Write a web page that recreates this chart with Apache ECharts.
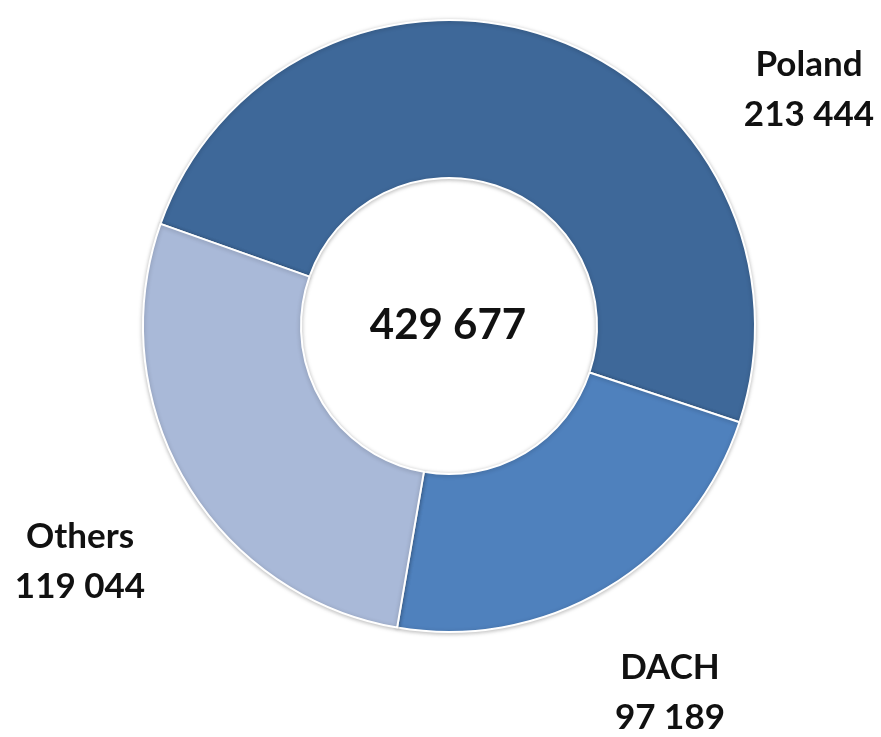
<!DOCTYPE html>
<html>
<head>
<meta charset="utf-8">
<script src="https://cdn.jsdelivr.net/npm/echarts@6/dist/echarts.min.js"></script>
<style>html,body{margin:0;padding:0;background:#fff;}#c{width:881px;height:737px;}</style>
</head>
<body>
<div id="c"></div>
<script>
const categories = ['Poland', 'DACH', 'Others'];
const values = [213444, 97189, 119044];
const colors = ['#3E6899', '#4F81BD', '#A9B9D8'];
const labelPositions = [[809, 90], [670, 693], [80, 562]];

const fmt = v => String(v).replace(/\B(?=(\d{3})+(?!\d))/g, ' ');
const total = values.reduce((a, b) => a + b, 0);

const chart = echarts.init(document.getElementById('c'));
chart.setOption({
  animation: false,
  graphic: [{
    type: 'text',
    x: 448, y: 325,
    style: {
      text: fmt(total),
      fontFamily: 'Lato', fontWeight: 'bold', fontSize: 42,
      fill: '#111', textAlign: 'center', textVerticalAlign: 'middle'
    }
  }],
  series: [{
    type: 'pie',
    center: [449, 326],
    radius: [148, 306],
    startAngle: 160.5,
    clockwise: true,
    avoidLabelOverlap: false,
    itemStyle: {
      borderColor: '#fff', borderWidth: 2,
      shadowColor: 'rgba(0,0,0,0.25)', shadowBlur: 4, shadowOffsetY: 1
    },
    label: {
      show: true,
      position: 'outside',
      formatter: p => p.name + '\n' + fmt(p.value),
      fontFamily: 'Lato', fontWeight: 'bold', fontSize: 35,
      lineHeight: 50, color: '#111', align: 'center'
    },
    labelLine: { show: false },
    labelLayout: p => ({
      x: labelPositions[p.dataIndex][0],
      y: labelPositions[p.dataIndex][1],
      align: 'center', verticalAlign: 'middle'
    }),
    data: categories.map((c, i) => ({ name: c, value: values[i], itemStyle: { color: colors[i] } }))
  }]
});
</script>
</body>
</html>
